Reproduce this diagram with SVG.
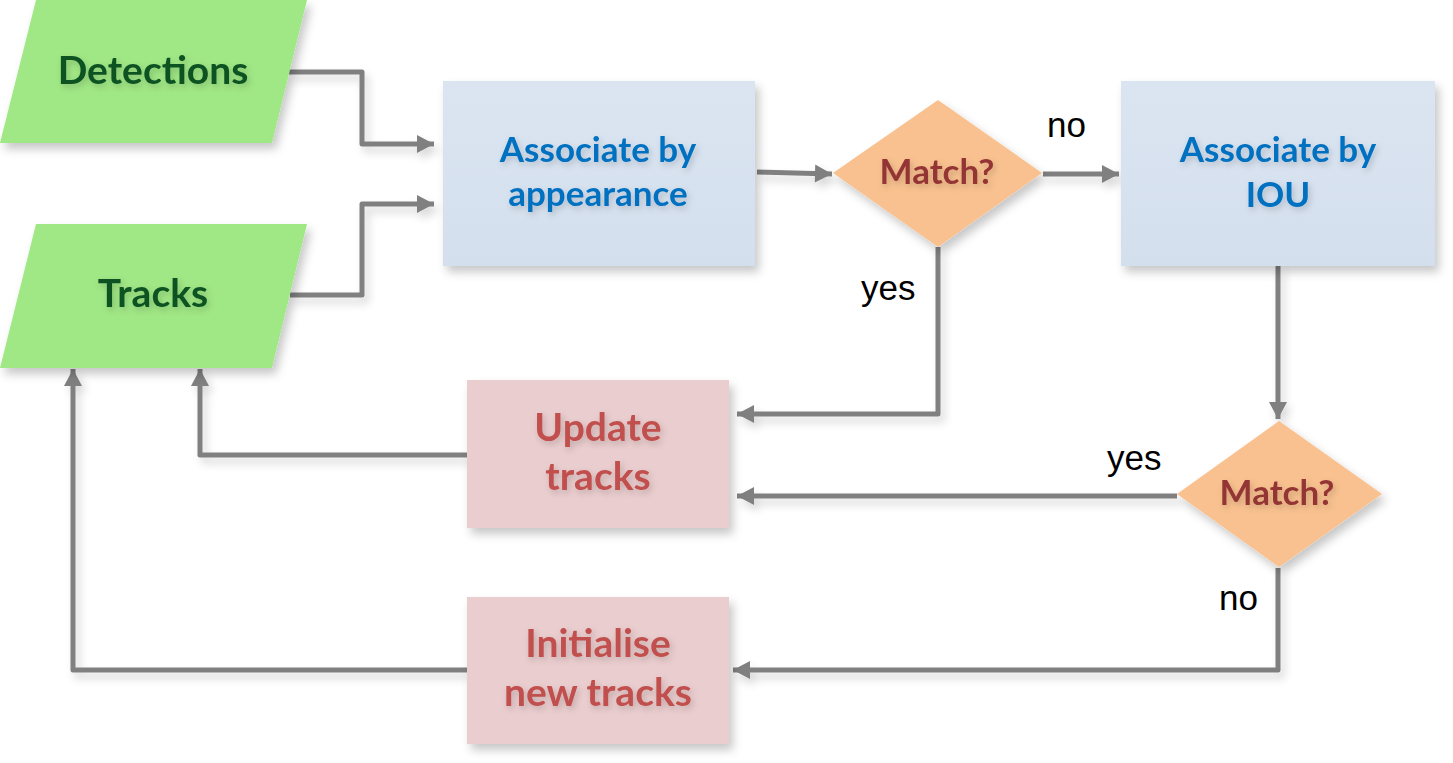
<svg xmlns="http://www.w3.org/2000/svg" width="1453" height="763" viewBox="0 0 1453 763">
<defs>
<filter id="sh" x="-20%" y="-20%" width="150%" height="150%">
<feDropShadow dx="4" dy="6" stdDeviation="5" flood-color="#000" flood-opacity="0.22"/>
</filter>
<filter id="csh" filterUnits="userSpaceOnUse" x="0" y="0" width="1453" height="763">
<feDropShadow dx="4" dy="6" stdDeviation="4" flood-color="#000" flood-opacity="0.16"/>
</filter>
<filter id="tsh" x="-20%" y="-40%" width="140%" height="180%">
<feDropShadow dx="2" dy="3" stdDeviation="3" flood-color="#000" flood-opacity="0.18"/>
</filter>
<marker id="ah" markerUnits="userSpaceOnUse" markerWidth="20" markerHeight="20" viewBox="0 0 20 20" refX="18" refY="10" orient="auto">
<path d="M1,1 L18,10 L1,19 Z" fill="#808080"/>
</marker>
<linearGradient id="blueg" x1="0" y1="0" x2="0" y2="1">
<stop offset="0" stop-color="#dbe5f2"/>
<stop offset="1" stop-color="#d4dfed"/>
</linearGradient>
</defs>
<style>
.io{fill:#a0e785;filter:url(#sh)}
.proc{fill:url(#blueg);filter:url(#sh)}
.dec{fill:#f9c18f;filter:url(#sh)}
.out{fill:#eacdce;filter:url(#sh)}
.t{font-family:Lato,"Open Sans",sans-serif;font-weight:bold;text-anchor:middle;filter:url(#tsh)}
.tg{fill:#0d5224;font-size:39px}
.tb{fill:#0070c0;font-size:35px}
.tm{fill:#943634;font-size:35px}
.tr{fill:#c0504d;font-size:39px}
.lbl{font-family:"Liberation Sans",Arial,sans-serif;font-size:35px;fill:#000}
.c{fill:none;stroke:#808080;stroke-width:5;stroke-linejoin:round}
.ca{marker-end:url(#ah)}
</style>
<rect width="1453" height="763" fill="#fff"/>

<g id="connectors" filter="url(#csh)">
<polyline class="c ca" points="289,72 362,72 362,144 434,144"/>
<polyline class="c ca" points="290,295 362,295 362,204 434,204"/>
<polyline class="c ca" points="757,172 832,174"/>
<polyline class="c ca" points="1043,174 1119,174"/>
<polyline class="c ca" points="938,247 938,414 737,414"/>
<polyline class="c ca" points="1278,266 1278,419"/>
<polyline class="c ca" points="1177,496 737,496"/>
<polyline class="c ca" points="1278,568 1278,670 733,670"/>
<polyline class="c ca" points="467,455 200,455 200,369"/>
<polyline class="c ca" points="467,670 73,670 73,369"/>
</g>
<g id="labels">
<text class="lbl" x="1047" y="137">no</text>
<text class="lbl" x="861" y="300">yes</text>
<text class="lbl" x="1107" y="470">yes</text>
<text class="lbl" x="1219" y="610">no</text>
</g>

<g id="detections">
<polygon class="io" points="36,0 307,0 272,143 0,143"/>
<text class="t tg" x="153" y="84">Detections</text>
</g>
<g id="tracks">
<polygon class="io" points="36,224 307,224 272,368 0,368"/>
<text class="t tg" x="153" y="307">Tracks</text>
</g>
<g id="assoc-appearance">
<rect class="proc" x="443" y="81" width="312" height="185"/>
<text class="t tb" x="598" y="162">Associate by</text>
<text class="t tb" x="598" y="206">appearance</text>
</g>
<g id="match1">
<polygon class="dec" points="833,173 938,100 1042,173 938,247"/>
<text class="t tm" x="937" y="184">Match?</text>
</g>
<g id="assoc-iou">
<rect class="proc" x="1121" y="81" width="314" height="185"/>
<text class="t tb" x="1278" y="162">Associate by</text>
<text class="t tb" x="1278" y="207">IOU</text>
</g>
<g id="match2">
<polygon class="dec" points="1177,494 1279,421 1382,494 1279,567"/>
<text class="t tm" x="1277" y="505">Match?</text>
</g>
<g id="update-tracks">
<rect class="out" x="467" y="380" width="262" height="148"/>
<text class="t tr" x="598" y="441">Update</text>
<text class="t tr" x="598" y="490">tracks</text>
</g>
<g id="init-tracks">
<rect class="out" x="467" y="597" width="262" height="147"/>
<text class="t tr" x="598" y="657">Initialise</text>
<text class="t tr" x="598" y="706">new tracks</text>
</g>
</svg>
